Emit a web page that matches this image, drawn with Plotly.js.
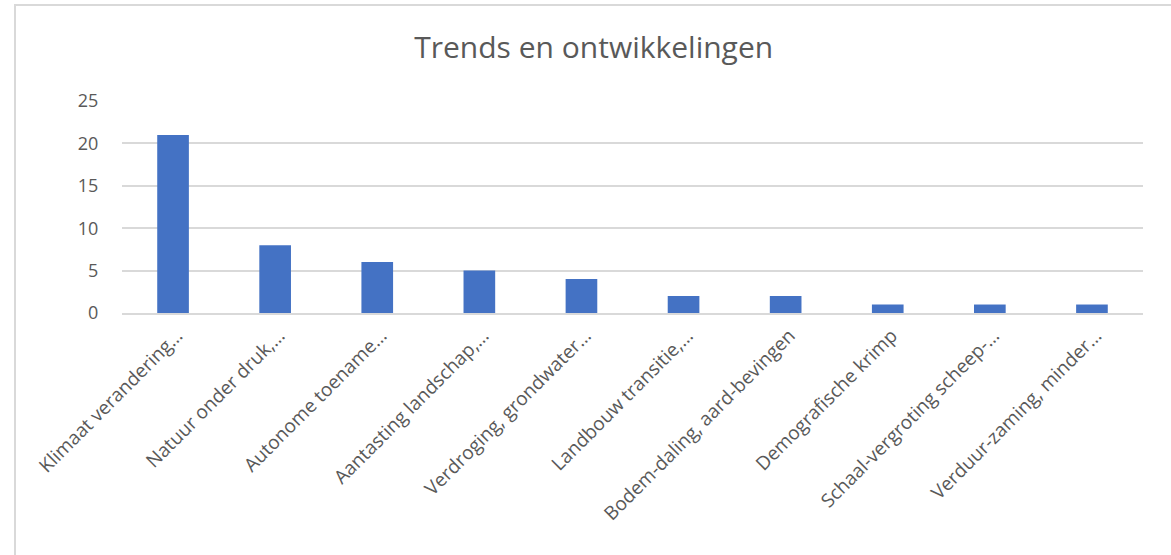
<!DOCTYPE html>
<html>
<head>
<meta charset="utf-8">
<script src="https://cdn.plot.ly/plotly-3.0.1.min.js"></script>
<style>
html,body{margin:0;padding:0;background:#fff;}
#wrap{position:relative;width:1171px;height:555px;overflow:hidden;}
#frame{position:absolute;left:14px;top:4px;width:1200px;height:600px;border-left:2px solid #d9d9d9;border-top:2px solid #d9d9d9;}
#chart{position:absolute;left:0;top:0;width:1171px;height:555px;}
</style>
</head>
<body>
<div id="wrap"><div id="frame"></div><div id="chart"></div></div>
<script>
const categories = [
  "Klimaat verandering…",
  "Natuur onder druk,…",
  "Autonome toename…",
  "Aantasting landschap,…",
  "Verdroging, grondwater…",
  "Landbouw transitie,…",
  "Bodem-daling, aard-bevingen",
  "Demografische krimp",
  "Schaal-vergroting scheep-…",
  "Verduur-zaming, minder…"
];
const values = [21, 8, 6, 5, 4, 2, 2, 1, 1, 1];
const yTicks = [0, 5, 10, 15, 20, 25];

Plotly.newPlot('chart', [{
  type: 'bar',
  x: categories,
  y: values,
  marker: {color: '#4472c4'},
  width: 0.31,
  hoverinfo: 'x+y'
}], {
  width: 1171, height: 555,
  margin: {l: 122, r: 28, t: 101, b: 242},
  paper_bgcolor: 'rgba(0,0,0,0)',
  plot_bgcolor: 'rgba(0,0,0,0)',
  title: {text: 'Trends en ontwikkelingen', x: 0.507, xanchor: 'center', y: 0.915, yanchor: 'middle',
          font: {family: 'Open Sans', size: 30, color: '#595959'}},
  font: {family: 'Open Sans', color: '#595959'},
  xaxis: {
    type: 'category', tickangle: -45, tickfont: {size: 19, color: '#595959'},
    ticklabelshift: 4, ticklabelstandoff: 2,
    showline: true, linecolor: '#d9d9d9', linewidth: 2, ticks: '', showgrid: false
  },
  yaxis: {
    range: [0, 25], tickvals: yTicks, ticktext: yTicks.map(String),
    tickfont: {size: 18, color: '#595959'}, gridcolor: '#d9d9d9', gridwidth: 2,
    zeroline: false, showline: false, ticks: 'outside', ticklen: 19, tickcolor: 'rgba(0,0,0,0)'
  },
  showlegend: false
}, {displayModeBar: false, staticPlot: true});
</script>
</body>
</html>
